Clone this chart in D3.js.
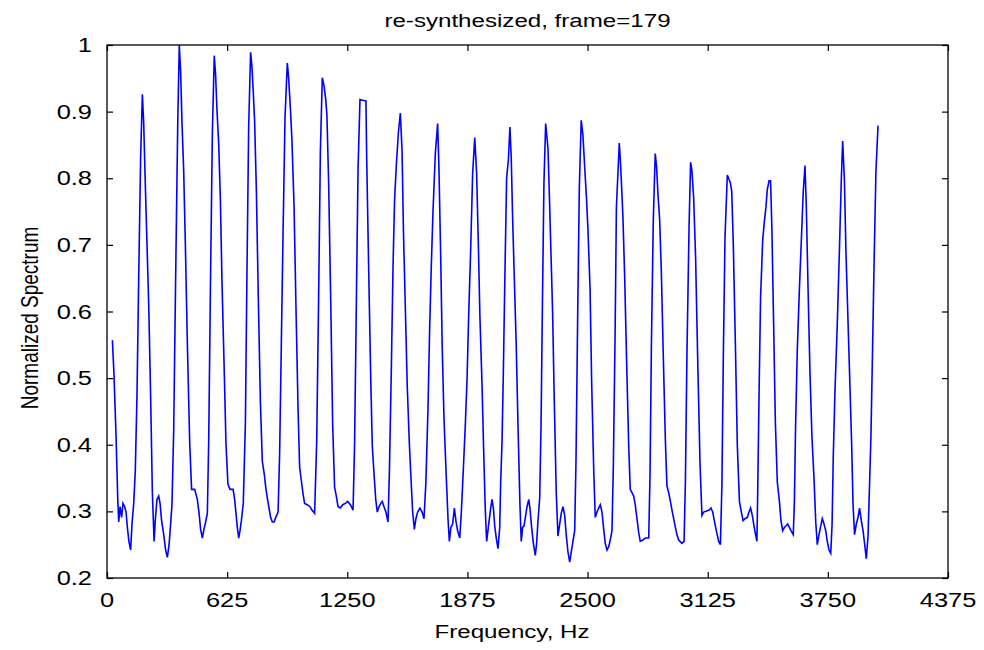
<!DOCTYPE html>
<html>
<head>
<meta charset="utf-8">
<script src="https://cdn.jsdelivr.net/npm/d3@7"></script>
<style>
  body { margin: 0; background: #fff; }
  text { font-family: Arial, "Liberation Sans", sans-serif; fill: #000; }
</style>
</head>
<body>
<svg id="chart"></svg>
<script>
// spectrum (Hz, normalized magnitude)
const freqHz = [
  28, 36, 47, 56, 61, 68, 76, 83, 92, 99, 106, 114, 123, 130, 139, 147, 156, 165, 175, 184,
  191, 198, 206, 217, 227, 236, 245, 251, 260, 269, 276, 284, 295, 305, 314, 323, 331, 338, 347, 357,
  368, 376, 383, 390, 399, 408, 418, 430, 440, 456, 470, 479, 487, 496, 503, 513, 522, 529, 538, 548,
  558, 565, 572, 581, 590, 598, 609, 619, 629, 640, 656, 664, 671, 678, 685, 692, 699, 709, 720, 728,
  737, 747, 754, 761, 768, 777, 787, 798, 808, 819, 825, 834, 843, 851, 860, 869, 878, 890, 898, 907,
  916, 926, 938, 945, 954, 962, 973, 983, 994, 1002, 1011, 1020, 1028, 1042, 1056, 1066, 1080, 1091, 1101, 1110,
  1120, 1129, 1138, 1144, 1153, 1164, 1174, 1184, 1193, 1202, 1214, 1226, 1240, 1252, 1266, 1280, 1288, 1297, 1306, 1316,
  1330, 1347, 1351, 1361, 1372, 1380, 1389, 1398, 1406, 1415, 1424, 1432, 1441, 1451, 1462, 1469, 1479, 1488, 1496, 1505,
  1516, 1526, 1535, 1542, 1552, 1562, 1573, 1581, 1590, 1599, 1607, 1616, 1628, 1639, 1649, 1659, 1670, 1678, 1687, 1696,
  1708, 1720, 1727, 1736, 1744, 1753, 1763, 1774, 1781, 1789, 1798, 1807, 1815, 1824, 1835, 1843, 1854, 1864, 1873, 1881,
  1892, 1902, 1913, 1923, 1932, 1940, 1951, 1959, 1968, 1975, 1987, 1996, 2003, 2010, 2017, 2025, 2034, 2043, 2048, 2055,
  2062, 2070, 2079, 2088, 2096, 2103, 2110, 2119, 2129, 2138, 2148, 2155, 2162, 2169, 2178, 2185, 2194, 2200, 2209, 2218,
  2228, 2235, 2242, 2251, 2258, 2265, 2273, 2282, 2294, 2301, 2308, 2318, 2327, 2337, 2346, 2355, 2363, 2372, 2381, 2389,
  2398, 2407, 2415, 2424, 2433, 2440, 2448, 2457, 2467, 2476, 2485, 2494, 2502, 2513, 2521, 2532, 2540, 2549, 2558, 2566,
  2575, 2584, 2592, 2601, 2610, 2618, 2627, 2634, 2643, 2650, 2665, 2670, 2677, 2684, 2693, 2703, 2714, 2722, 2731, 2740,
  2748, 2757, 2766, 2774, 2787, 2800, 2818, 2825, 2832, 2842, 2852, 2859, 2866, 2875, 2884, 2894, 2905, 2913, 2922, 2931,
  2939, 2948, 2957, 2965, 2974, 2991, 3002, 3009, 3017, 3028, 3036, 3043, 3052, 3062, 3073, 3085, 3095, 3104, 3133, 3142,
  3151, 3161, 3172, 3182, 3191, 3199, 3206, 3215, 3227, 3236, 3243, 3250, 3258, 3269, 3279, 3290, 3298, 3309, 3319, 3331,
  3340, 3348, 3357, 3366, 3374, 3381, 3385, 3392, 3400, 3411, 3419, 3428, 3435, 3444, 3452, 3459, 3468, 3477, 3487, 3498,
  3506, 3515, 3524, 3532, 3541, 3550, 3558, 3570, 3576, 3582, 3591, 3602, 3612, 3622, 3631, 3638, 3647, 3657, 3667, 3678,
  3687, 3695, 3704, 3713, 3721, 3730, 3739, 3747, 3756, 3765, 3772, 3778, 3787, 3799, 3810, 3820, 3827, 3836, 3844, 3855,
  3865, 3874, 3881, 3889, 3898, 3907, 3915, 3924, 3933, 3941, 3950, 3959, 3967, 3974, 3981, 3990, 4000, 4011
];

const normSpectrum = [
  .557, .508, .414, .318, .284, .307, .291, .312, .307, .299, .276, .255, .242, .281, .312, .359, .474, .652, .832, .926,
  .882, .804, .723, .610, .472, .328, .255, .286, .318, .323, .312, .286, .265, .242, .231, .250, .281, .310, .422, .649,
  .882, 1.000, .960, .885, .811, .696, .553, .406, .333, .333, .318, .297, .273, .260, .271, .284, .297, .404, .634, .866,
  .984, .955, .903, .853, .767, .647, .521, .401, .341, .333, .333, .318, .297, .276, .260, .271, .286, .312, .433, .655,
  .877, .989, .968, .929, .885, .783, .623, .464, .375, .354, .338, .320, .305, .291, .284, .284, .291, .299, .386, .553,
  .720, .890, .973, .950, .905, .858, .759, .608, .453, .367, .346, .326, .312, .310, .307, .302, .297, .406, .623, .840,
  .951, .939, .918, .895, .793, .613, .430, .336, .323, .307, .305, .310, .312, .315, .310, .302, .401, .608, .814, .918,
  .917, .916, .830, .668, .500, .399, .357, .318, .299, .307, .312, .315, .307, .299, .284, .359, .511, .668, .767, .819,
  .869, .898, .840, .723, .605, .487, .401, .352, .299, .273, .289, .299, .305, .299, .289, .344, .456, .568, .668, .751,
  .837, .882, .814, .681, .545, .440, .365, .289, .255, .276, .281, .305, .286, .271, .260, .297, .365, .430, .498, .589,
  .694, .806, .861, .806, .699, .592, .490, .396, .302, .255, .284, .305, .318, .305, .278, .260, .244, .276, .344, .404,
  .511, .655, .801, .827, .877, .830, .741, .649, .548, .430, .312, .255, .276, .278, .294, .307, .318, .305, .276, .252,
  .234, .252, .286, .320, .430, .608, .793, .882, .845, .777, .704, .600, .464, .328, .263, .281, .297, .307, .294, .265,
  .239, .224, .239, .255, .271, .380, .581, .785, .887, .864, .817, .772, .723, .634, .498, .362, .291, .299, .305, .310,
  .299, .273, .252, .242, .247, .257, .271, .367, .561, .757, .853, .830, .788, .741, .652, .527, .399, .333, .328, .323,
  .310, .289, .268, .255, .257, .260, .260, .357, .548, .738, .837, .817, .777, .738, .657, .532, .404, .338, .328, .315,
  .302, .289, .276, .265, .257, .252, .255, .346, .537, .728, .824, .811, .770, .681, .527, .372, .294, .299, .302, .305,
  .299, .284, .268, .255, .250, .341, .527, .712, .805, .798, .793, .780, .702, .550, .399, .315, .302, .286, .289, .291,
  .299, .305, .294, .278, .265, .255, .328, .474, .621, .707, .733, .757, .783, .796, .796, .723, .579, .433, .344, .315,
  .286, .271, .276, .278, .281, .276, .271, .265, .315, .427, .542, .634, .707, .780, .819, .757, .634, .508, .414, .349,
  .284, .250, .265, .278, .289, .281, .271, .255, .242, .237, .281, .380, .480, .581, .691, .798, .856, .798, .691, .584,
  .487, .399, .310, .265, .281, .291, .305, .286, .271, .252, .229, .263, .341, .412, .519, .665, .809, .879
];

const xTicks = [0, 625, 1250, 1875, 2500, 3125, 3750, 4375];
const yTicks = [0.2, 0.3, 0.4, 0.5, 0.6, 0.7, 0.8, 0.9, 1];

const chartTitle = "re-synthesized, frame=179";
const xLabel = "Frequency, Hz";
const yLabel = "Normalized Spectrum";

const W = 984, H = 650;
const margin = { top: 45, right: 36, bottom: 72, left: 107 };
const innerW = W - margin.left - margin.right;
const innerH = H - margin.top - margin.bottom;

// the original figure was stretched sideways, so text gets widened a bit
const stretch = 1.27;

const svg = d3.select("#chart").attr("width", W).attr("height", H);
const g = svg.append("g").attr("transform", `translate(${margin.left},${margin.top})`);

const x = d3.scaleLinear().domain([0, 4375]).range([0, innerW]);
const y = d3.scaleLinear().domain([0.2, 1]).range([innerH, 0]);

const points = freqHz.map((f, i) => ({ f: f, v: normSpectrum[i] }));

// spectrum line
g.append("path")
  .datum(points)
  .attr("fill", "none")
  .attr("stroke", "#0000ff")
  .attr("stroke-width", 1.6)
  .attr("d", d3.line().x(d => x(d.f)).y(d => y(d.v)));

// matlab-ish box, inward ticks on all four sides
const tickLen = 6;
const styleTicks = sel => {
  sel.select(".domain").remove();
  sel.selectAll(".tick line").attr("stroke", "#000").attr("stroke-width", 1.2);
};

g.append("g").attr("transform", `translate(0,${innerH})`)
  .call(d3.axisBottom(x).tickValues(xTicks).tickFormat("")
    .tickSizeInner(-tickLen).tickSizeOuter(0))
  .call(styleTicks);
g.append("g")
  .call(d3.axisTop(x).tickValues(xTicks).tickFormat("")
    .tickSizeInner(-tickLen).tickSizeOuter(0))
  .call(styleTicks);
g.append("g")
  .call(d3.axisLeft(y).tickValues(yTicks).tickFormat("")
    .tickSizeInner(-tickLen).tickSizeOuter(0))
  .call(styleTicks);
g.append("g").attr("transform", `translate(${innerW},0)`)
  .call(d3.axisRight(y).tickValues(yTicks).tickFormat("")
    .tickSizeInner(-tickLen).tickSizeOuter(0))
  .call(styleTicks);

g.append("rect")
  .attr("width", innerW).attr("height", innerH)
  .attr("fill", "none").attr("stroke", "#000").attr("stroke-width", 1.3);

// tick labels (drawn separately so they can be widened)
g.selectAll(".xlab").data(xTicks).join("text")
  .attr("class", "xlab")
  .attr("transform", d => `translate(${x(d)},${innerH + 29}) scale(${stretch},1)`)
  .attr("text-anchor", "middle")
  .style("font-size", "20px")
  .text(d => d3.format("d")(d));

g.selectAll(".ylab").data(yTicks).join("text")
  .attr("class", "ylab")
  .attr("transform", d => `translate(-15,${y(d) + 7}) scale(${stretch},1)`)
  .attr("text-anchor", "end")
  .style("font-size", "20px")
  .text(d => String(d));

// title and axis labels
svg.append("text")
  .attr("transform", `translate(${margin.left + innerW / 2},27) scale(${stretch},1)`)
  .attr("text-anchor", "middle").style("font-size", "19px")
  .text(chartTitle);

svg.append("text")
  .attr("transform", `translate(512,638) scale(${stretch},1)`)
  .attr("text-anchor", "middle").style("font-size", "19px")
  .text(xLabel);

svg.append("text")
  .attr("transform", `translate(38,318) scale(${stretch},1) rotate(-90)`)
  .attr("text-anchor", "middle").style("font-size", "19px")
  .text(yLabel);
</script>
</body>
</html>
